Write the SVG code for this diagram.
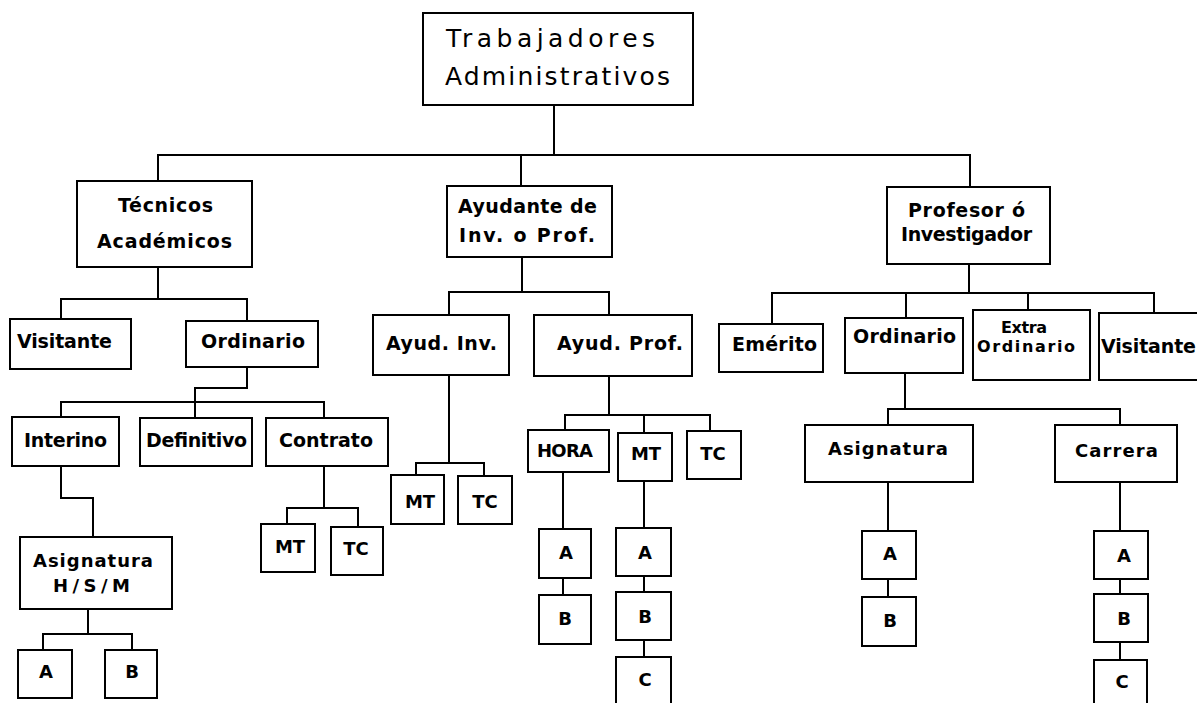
<svg xmlns="http://www.w3.org/2000/svg" width="1197" height="703" viewBox="0 0 1197 703">
<style>
.box{fill:#fff;stroke:#000;stroke-width:2}
.ln{fill:none;stroke:#000;stroke-width:2}
text{font-family:"DejaVu Sans","Liberation Sans",Arial,sans-serif;font-weight:bold;font-size:19px;fill:#000}
.root{font-weight:normal;font-size:25px}
.s{font-size:18px}
.xs{font-size:16px}
.c{text-anchor:middle}
</style>
<rect width="1197" height="703" fill="#fff"/>
<g id="connectors">
<path class="ln" d="M554,105V155 M158,181V155H970V187 M521,155V186"/>
<path class="ln" d="M158,267V299 M61,319V299H247V321"/>
<path class="ln" d="M247,367V388H195V402 M61,417V402H324V418 M195,402V418"/>
<path class="ln" d="M61,466V498H93V537"/>
<path class="ln" d="M88,609V634 M43,650V634H132V650"/>
<path class="ln" d="M324,466V508 M287,524V508H358V527"/>
<path class="ln" d="M522,257V292 M449,315V292H609V315"/>
<path class="ln" d="M449,375V463 M416,475V463H484V476"/>
<path class="ln" d="M609,376V415 M565,430V415H710V431 M644,415V433"/>
<path class="ln" d="M563,472V529 M563,578V595"/>
<path class="ln" d="M644,481V528 M644,576V592 M644,640V657"/>
<path class="ln" d="M969,264V293 M772,324V293H1154V313 M906,293V318 M1028,293V310"/>
<path class="ln" d="M905,373V409 M888,425V409H1120V425"/>
<path class="ln" d="M888,482V531 M888,579V597"/>
<path class="ln" d="M1120,482V531 M1120,579V594 M1120,642V660"/>
</g>
<g id="root"><rect class="box" x="423" y="13" width="270" height="92"/><text class="root" x="446" y="47" textLength="209" lengthAdjust="spacing">Trabajadores</text><text class="root" x="445" y="85" textLength="225" lengthAdjust="spacing">Administrativos</text></g>
<g id="tecnicos"><rect class="box" x="77" y="181" width="175" height="86"/><text x="118" y="212" textLength="95" lengthAdjust="spacing">Técnicos</text><text x="97" y="248" textLength="135" lengthAdjust="spacing">Académicos</text></g>
<g id="ayudante"><rect class="box" x="447" y="186" width="165" height="71"/><text x="458" y="213" textLength="139" lengthAdjust="spacing">Ayudante de</text><text x="459" y="242" textLength="136" lengthAdjust="spacing">Inv. o Prof.</text></g>
<g id="profesor"><rect class="box" x="887" y="187" width="163" height="77"/><text x="908" y="217" textLength="117" lengthAdjust="spacing">Profesor ó</text><text x="901" y="241" textLength="131" lengthAdjust="spacing">Investigador</text></g>
<g id="visitante-tec"><rect class="box" x="10" y="319" width="121" height="50"/><text x="17" y="348" textLength="95" lengthAdjust="spacing">Visitante</text></g>
<g id="ordinario-tec"><rect class="box" x="186" y="321" width="132" height="46"/><text x="201" y="348" textLength="104" lengthAdjust="spacing">Ordinario</text></g>
<g id="interino"><rect class="box" x="12" y="417" width="107" height="49"/><text x="24" y="447" textLength="83" lengthAdjust="spacing">Interino</text></g>
<g id="definitivo"><rect class="box" x="140" y="418" width="112" height="48"/><text x="146" y="447" textLength="101" lengthAdjust="spacing">Definitivo</text></g>
<g id="contrato"><rect class="box" x="266" y="418" width="122" height="48"/><text x="279" y="447" textLength="94" lengthAdjust="spacing">Contrato</text></g>
<g id="asignatura-hsm"><rect class="box" x="20" y="537" width="152" height="72"/><text class="s" x="33" y="567" textLength="120" lengthAdjust="spacing">Asignatura</text><text class="s" x="53" y="592" textLength="77" lengthAdjust="spacing">H/S/M</text></g>
<g id="hsm-a"><rect class="box" x="18" y="650" width="54" height="48"/><text class="s c" x="46" y="678">A</text></g>
<g id="hsm-b"><rect class="box" x="105" y="650" width="52" height="48"/><text class="s c" x="132" y="678">B</text></g>
<g id="contrato-mt"><rect class="box" x="261" y="524" width="54" height="48"/><text class="s c" x="290" y="553">MT</text></g>
<g id="contrato-tc"><rect class="box" x="331" y="527" width="52" height="48"/><text class="s c" x="356" y="555">TC</text></g>
<g id="ayud-inv"><rect class="box" x="373" y="315" width="136" height="60"/><text x="386" y="350" textLength="111" lengthAdjust="spacing">Ayud. Inv.</text></g>
<g id="ayud-prof"><rect class="box" x="534" y="315" width="158" height="61"/><text x="557" y="350" textLength="126" lengthAdjust="spacing">Ayud. Prof.</text></g>
<g id="inv-mt"><rect class="box" x="391" y="475" width="53" height="49"/><text class="s c" x="420" y="508">MT</text></g>
<g id="inv-tc"><rect class="box" x="458" y="476" width="54" height="48"/><text class="s c" x="485" y="508">TC</text></g>
<g id="hora"><rect class="box" x="528" y="430" width="81" height="42"/><text class="s" x="537" y="457" textLength="56" lengthAdjust="spacing">HORA</text></g>
<g id="prof-mt"><rect class="box" x="618" y="433" width="54" height="48"/><text class="s c" x="646" y="460">MT</text></g>
<g id="prof-tc"><rect class="box" x="687" y="431" width="54" height="48"/><text class="s c" x="713" y="460">TC</text></g>
<g id="hora-a"><rect class="box" x="539" y="529" width="52" height="49"/><text class="s c" x="566" y="559">A</text></g>
<g id="hora-b"><rect class="box" x="539" y="595" width="52" height="49"/><text class="s c" x="565" y="625">B</text></g>
<g id="mt-a"><rect class="box" x="616" y="528" width="55" height="48"/><text class="s c" x="645" y="559">A</text></g>
<g id="mt-b"><rect class="box" x="616" y="592" width="55" height="48"/><text class="s c" x="645" y="623">B</text></g>
<g id="mt-c"><rect class="box" x="616" y="657" width="55" height="60"/><text class="s c" x="645" y="686">C</text></g>
<g id="emerito"><rect class="box" x="719" y="324" width="104" height="48"/><text x="732" y="351" textLength="85" lengthAdjust="spacing">Emérito</text></g>
<g id="ordinario-prof"><rect class="box" x="845" y="318" width="118" height="55"/><text x="853" y="343" textLength="103" lengthAdjust="spacing">Ordinario</text></g>
<g id="extra"><rect class="box" x="973" y="310" width="117" height="70"/><text class="xs" x="1001" y="333" textLength="46" lengthAdjust="spacing">Extra</text><text class="xs" x="977" y="352" textLength="98" lengthAdjust="spacing">Ordinario</text></g>
<g id="visitante-prof"><rect class="box" x="1099" y="313" width="110" height="67"/><text x="1101" y="353" textLength="95" lengthAdjust="spacing">Visitante</text></g>
<g id="asignatura-prof"><rect class="box" x="805" y="425" width="168" height="57"/><text class="s" x="828" y="455" textLength="120" lengthAdjust="spacing">Asignatura</text></g>
<g id="carrera"><rect class="box" x="1055" y="425" width="122" height="57"/><text class="s" x="1075" y="457" textLength="83" lengthAdjust="spacing">Carrera</text></g>
<g id="asig-a"><rect class="box" x="862" y="531" width="54" height="48"/><text class="s c" x="890" y="560">A</text></g>
<g id="asig-b"><rect class="box" x="862" y="597" width="54" height="49"/><text class="s c" x="890" y="627">B</text></g>
<g id="car-a"><rect class="box" x="1094" y="531" width="54" height="48"/><text class="s c" x="1124" y="562">A</text></g>
<g id="car-b"><rect class="box" x="1094" y="594" width="54" height="48"/><text class="s c" x="1124" y="625">B</text></g>
<g id="car-c"><rect class="box" x="1094" y="660" width="53" height="60"/><text class="s c" x="1122" y="688">C</text></g>
</svg>
